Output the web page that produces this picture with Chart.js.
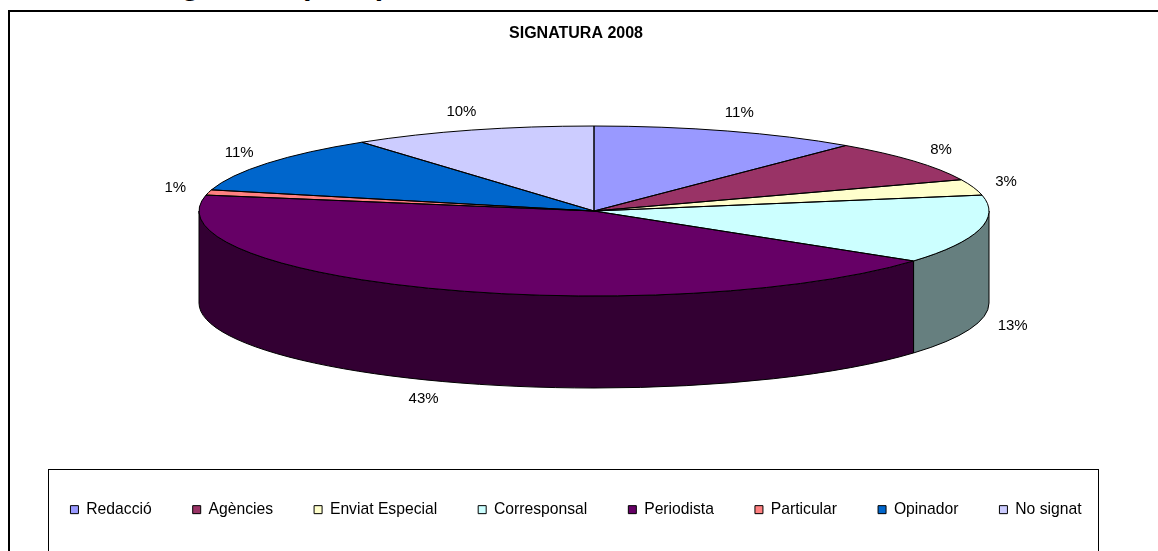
<!DOCTYPE html>
<html>
<head>
<meta charset="utf-8">
<script src="https://cdn.jsdelivr.net/npm/chart.js@4/dist/chart.umd.min.js"></script>
<style>
  html, body { margin: 0; padding: 0; background: #fff; overflow: hidden; }
  #wrap { position: relative; width: 1158px; height: 551px; overflow: hidden; }
  #heading {
    position: absolute; left: 153px; top: -30px;
    font: bold 30px "Liberation Sans", Arial, sans-serif; line-height: 30px;
    white-space: nowrap; color: #000;
  }
  canvas { position: absolute; left: 0; top: 0; }
</style>
</head>
<body>
<div id="wrap">
  <div id="heading">Signatura (2008)</div>
  <canvas id="chartCanvas" width="1158" height="551"></canvas>
</div>
<script>
const categories = ["Redacció", "Agències", "Enviat Especial", "Corresponsal", "Periodista", "Particular", "Opinador", "No signat"];
const shares = [11, 8, 3, 13, 43, 1, 11, 10];
const sliceColors = ["#9999FF", "#993366", "#FFFFCC", "#CCFFFF", "#660066", "#FF8080", "#0066CC", "#CCCCFF"];
const chartTitle = "SIGNATURA 2008";

// where the tilted pie sits on the page
const PIE_X = 594, PIE_Y = 211, PIE_RADIUS = 395, TILT = 85 / 395, DEPTH = 92;
const FONT = '"Liberation Sans", Arial, sans-serif';

function darker(hex) {
  const n = parseInt(hex.slice(1), 16);
  return `rgb(${(n >> 16) >> 1},${((n >> 8) & 255) >> 1},${(n & 255) >> 1})`;
}

const tiltPlugin = {
  id: "tilt",
  beforeDraw(chart) {
    const ctx = chart.ctx;
    ctx.save();
    ctx.lineWidth = 2;
    ctx.strokeStyle = "#000";
    ctx.strokeRect(9, 11, 1300, 700);
    ctx.restore();
  },
  beforeDatasetsDraw(chart) {
    const ctx = chart.ctx;
    const arcs = chart.getDatasetMeta(0).data;
    ctx.save();
    // side wall, only the front half shows
    arcs.forEach((arc, i) => {
      const a1 = Math.max(arc.startAngle, 0);
      const a2 = Math.min(arc.endAngle, Math.PI);
      if (a2 <= a1) return;
      const rx = arc.outerRadius, ry = rx * TILT;
      ctx.beginPath();
      ctx.ellipse(PIE_X, PIE_Y, rx, ry, 0, a1, a2);
      ctx.lineTo(PIE_X + rx * Math.cos(a2), PIE_Y + ry * Math.sin(a2) + DEPTH);
      ctx.ellipse(PIE_X, PIE_Y + DEPTH, rx, ry, 0, a2, a1, true);
      ctx.closePath();
      ctx.fillStyle = darker(sliceColors[i]);
      ctx.fill();
      ctx.lineWidth = 1;
      ctx.strokeStyle = "#000";
      ctx.stroke();
    });
    // squash the flat pie into the top face
    const c = arcs[0];
    ctx.translate(PIE_X, PIE_Y);
    ctx.scale(1, TILT);
    ctx.translate(-c.x, -c.y);
  },
  afterDatasetsDraw(chart) {
    const ctx = chart.ctx;
    ctx.restore();
    const arcs = chart.getDatasetMeta(0).data;
    const total = shares.reduce((a, b) => a + b, 0);
    ctx.save();
    ctx.lineWidth = 1;
    ctx.strokeStyle = "#000";
    arcs.forEach(arc => {
      const rx = arc.outerRadius, ry = rx * TILT;
      ctx.beginPath();
      ctx.moveTo(PIE_X, PIE_Y);
      ctx.ellipse(PIE_X, PIE_Y, rx, ry, 0, arc.startAngle, arc.endAngle);
      ctx.closePath();
      ctx.stroke();
    });
    ctx.font = "15px " + FONT;
    ctx.fillStyle = "#000";
    ctx.textAlign = "center";
    ctx.textBaseline = "middle";
    arcs.forEach((arc, i) => {
      const mid = (arc.startAngle + arc.endAngle) / 2;
      const x = PIE_X + (arc.outerRadius + 34) * Math.cos(mid);
      let y = PIE_Y + (arc.outerRadius * TILT + 19) * Math.sin(mid);
      if (Math.sin(mid) > 0) y += DEPTH;
      ctx.fillText(Math.round(shares[i] / total * 100) + "%", x, y);
    });
    ctx.restore();
  },
  afterDraw(chart) {
    const boxes = chart.legend.legendHitBoxes;
    if (!boxes || !boxes.length) return;
    const first = boxes[0], last = boxes[boxes.length - 1];
    const ctx = chart.ctx;
    ctx.save();
    ctx.lineWidth = 1;
    ctx.strokeStyle = "#000";
    const left = Math.round(first.left - 22) + 0.5;
    const right = Math.round(last.left + last.width + 16) + 0.5;
    const top = Math.round(first.top - 33) + 0.5;
    ctx.strokeRect(left, top, right - left, 700);
    ctx.restore();
  }
};

new Chart(document.getElementById("chartCanvas"), {
  type: "pie",
  data: {
    labels: categories,
    datasets: [{
      data: shares,
      backgroundColor: sliceColors,
      borderWidth: 0,
      clip: false
    }]
  },
  options: {
    responsive: false,
    animation: false,
    events: [],
    radius: PIE_RADIUS,
    layout: { padding: { right: 6, bottom: 23.5 } },
    plugins: {
      tooltip: { enabled: false },
      title: {
        display: true,
        text: chartTitle,
        color: "#000",
        font: { family: FONT, size: 16, weight: "bold" },
        padding: { top: 24, bottom: 10 }
      },
      legend: {
        position: "bottom",
        labels: {
          boxWidth: 8,
          boxHeight: 8,
          padding: 41,
          color: "#000",
          font: { family: FONT, size: 15.7 },
          generateLabels: () => categories.map((name, i) => ({
            text: name,
            fillStyle: sliceColors[i],
            strokeStyle: "#000",
            lineWidth: 1,
            hidden: false,
            index: i
          }))
        }
      }
    }
  },
  plugins: [tiltPlugin]
});
</script>
</body>
</html>
